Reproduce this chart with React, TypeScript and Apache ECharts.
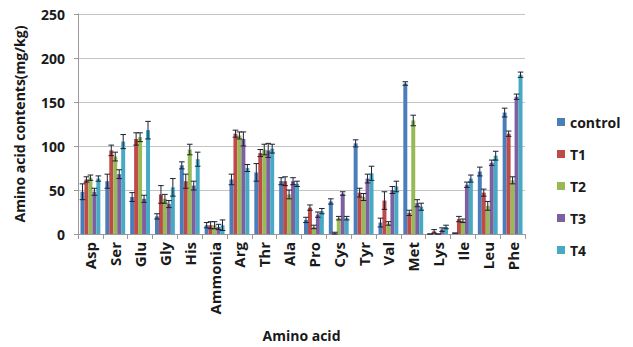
import React, { useEffect, useRef } from "react";
import * as echarts from "echarts";

const categories = ["Asp", "Ser", "Glu", "Gly", "His", "Ammonia", "Arg", "Thr", "Ala", "Pro", "Cys", "Tyr", "Val", "Met", "Lys", "Ile", "Leu", "Phe"];
const seriesNames = ["control", "T1", "T2", "T3", "T4"];

const controlVals = [48, 60, 42, 20, 78, 10, 62, 70, 60, 16, 37, 103, 13, 171, 0, 1, 71, 138];
const t1Vals = [62, 95, 108, 45, 60, 10, 114, 92, 60, 30, 1, 47, 38, 24, 3, 17, 47, 114];
const t2Vals = [64, 88, 110, 40, 96, 10, 112, 96, 45, 8, 18, 42, 12, 129, 0, 15, 32, 61];
const t3Vals = [48, 68, 40, 34, 55, 8, 108, 95, 60, 22, 46, 63, 50, 35, 5, 56, 81, 156];
const t4Vals = [63, 105, 118, 53, 85, 10, 75, 97, 57, 26, 18, 69, 54, 31, 8, 63, 89, 181];

const controlErr = [9, 8, 5, 3, 4, 3, 6, 10, 4, 3, 3, 4, 5, 2, 0, 0, 5, 5];
const t1Err = [3, 6, 7, 10, 8, 4, 4, 4, 5, 3, 1, 5, 10, 3, 2, 3, 4, 3];
const t2Err = [3, 5, 5, 5, 6, 4, 4, 6, 5, 2, 2, 4, 2, 6, 0, 2, 5, 4];
const t3Err = [4, 5, 4, 4, 5, 3, 8, 8, 4, 3, 2, 5, 4, 4, 2, 3, 3, 3];
const t4Err = [3, 8, 10, 10, 8, 6, 4, 5, 3, 3, 2, 8, 6, 4, 2, 4, 5, 3];

const colors = ["#4A7EBB", "#BE4B48", "#98B954", "#7D60A0", "#46AAC5"];

const allVals = [controlVals, t1Vals, t2Vals, t3Vals, t4Vals];
const allErrs = [controlErr, t1Err, t2Err, t3Err, t4Err];

const FONT = "'Open Sans', 'Noto Sans', sans-serif";

export default function App() {
  const ref = useRef<HTMLDivElement>(null);
  useEffect(() => {
    if (!ref.current) return;
    const chart = echarts.init(ref.current, undefined, { renderer: "svg" });
    const n = seriesNames.length;
    const catGap = 0.2;
    const barSeries = seriesNames.map((name, i) => ({
      name,
      type: "bar",
      data: allVals[i],
      barGap: "0%",
      barCategoryGap: "20%",
      itemStyle: { color: colors[i] },
      z: 2,
    }));
    const errSeries = seriesNames.map((name, i) => ({
      name: name + "_err",
      type: "custom",
      z: 5,
      silent: true,
      data: allVals[i].map((v, k) => [k, v, allErrs[i][k]]),
      encode: { x: 0, y: 1 },
      renderItem: (params: any, api: any) => {
        const k = api.value(0);
        const v = api.value(1);
        const e = api.value(2);
        const band = api.size([1, 0])[0];
        const bw = (band * (1 - catGap)) / n;
        const c = api.coord([k, v]);
        const x = c[0] + (i - (n - 1) / 2) * bw;
        const top = api.coord([k, v + e])[1];
        const bot = api.coord([k, Math.max(0, v - e)])[1];
        const cap = 2.8;
        const st = { stroke: "#1c2233", lineWidth: 1 };
        return {
          type: "group",
          children: [
            { type: "line", shape: { x1: x, y1: top, x2: x, y2: bot }, style: st },
            { type: "line", shape: { x1: x - cap, y1: top, x2: x + cap, y2: top }, style: st },
            { type: "line", shape: { x1: x - cap, y1: bot, x2: x + cap, y2: bot }, style: st },
          ],
        };
      },
    }));
    chart.setOption({
      animation: false,
      textStyle: { fontFamily: FONT },
      grid: { left: 78, right: 108, top: 14, bottom: 112 },
      legend: {
        data: seriesNames,
        orient: "vertical",
        left: 552,
        top: 109,
        itemWidth: 8,
        itemHeight: 8,
        itemGap: 16,
        icon: "rect",
        textStyle: { fontSize: 14, fontWeight: "bold", color: "#1a1a1a", lineHeight: 16, fontFamily: FONT },
      },
      xAxis: {
        type: "category",
        data: categories,
        name: "Amino acid",
        nameLocation: "middle",
        nameGap: 94,
        nameTextStyle: { fontSize: 14, fontWeight: "bold", color: "#1a1a1a", fontFamily: FONT },
        axisLine: { lineStyle: { color: "#9a9a9a" } },
        axisTick: { show: true, length: 5, lineStyle: { color: "#9a9a9a" } },
        axisLabel: { rotate: 90, fontSize: 15, fontWeight: "bold", color: "#1a1a1a", margin: 8, fontFamily: FONT },
      },
      yAxis: {
        type: "value",
        min: 0,
        max: 250,
        interval: 50,
        name: "Amino acid contents(mg/kg)",
        nameLocation: "middle",
        nameGap: 52,
        nameTextStyle: { fontSize: 14, fontWeight: "bold", color: "#1a1a1a", fontFamily: FONT },
        axisLine: { show: true, lineStyle: { color: "#9a9a9a" } },
        axisTick: { show: true, length: 4, lineStyle: { color: "#9a9a9a" } },
        axisLabel: { fontSize: 14, fontWeight: "bold", color: "#1a1a1a", margin: 13, fontFamily: FONT },
        splitLine: { lineStyle: { color: "#c4c4c4" } },
      },
      series: [...barSeries, ...errSeries],
    });
    return () => chart.dispose();
  }, []);
  return <div ref={ref} style={{ position: "fixed", left: 0, top: 0, width: 633, height: 347, background: "#fff" }} />;
}
